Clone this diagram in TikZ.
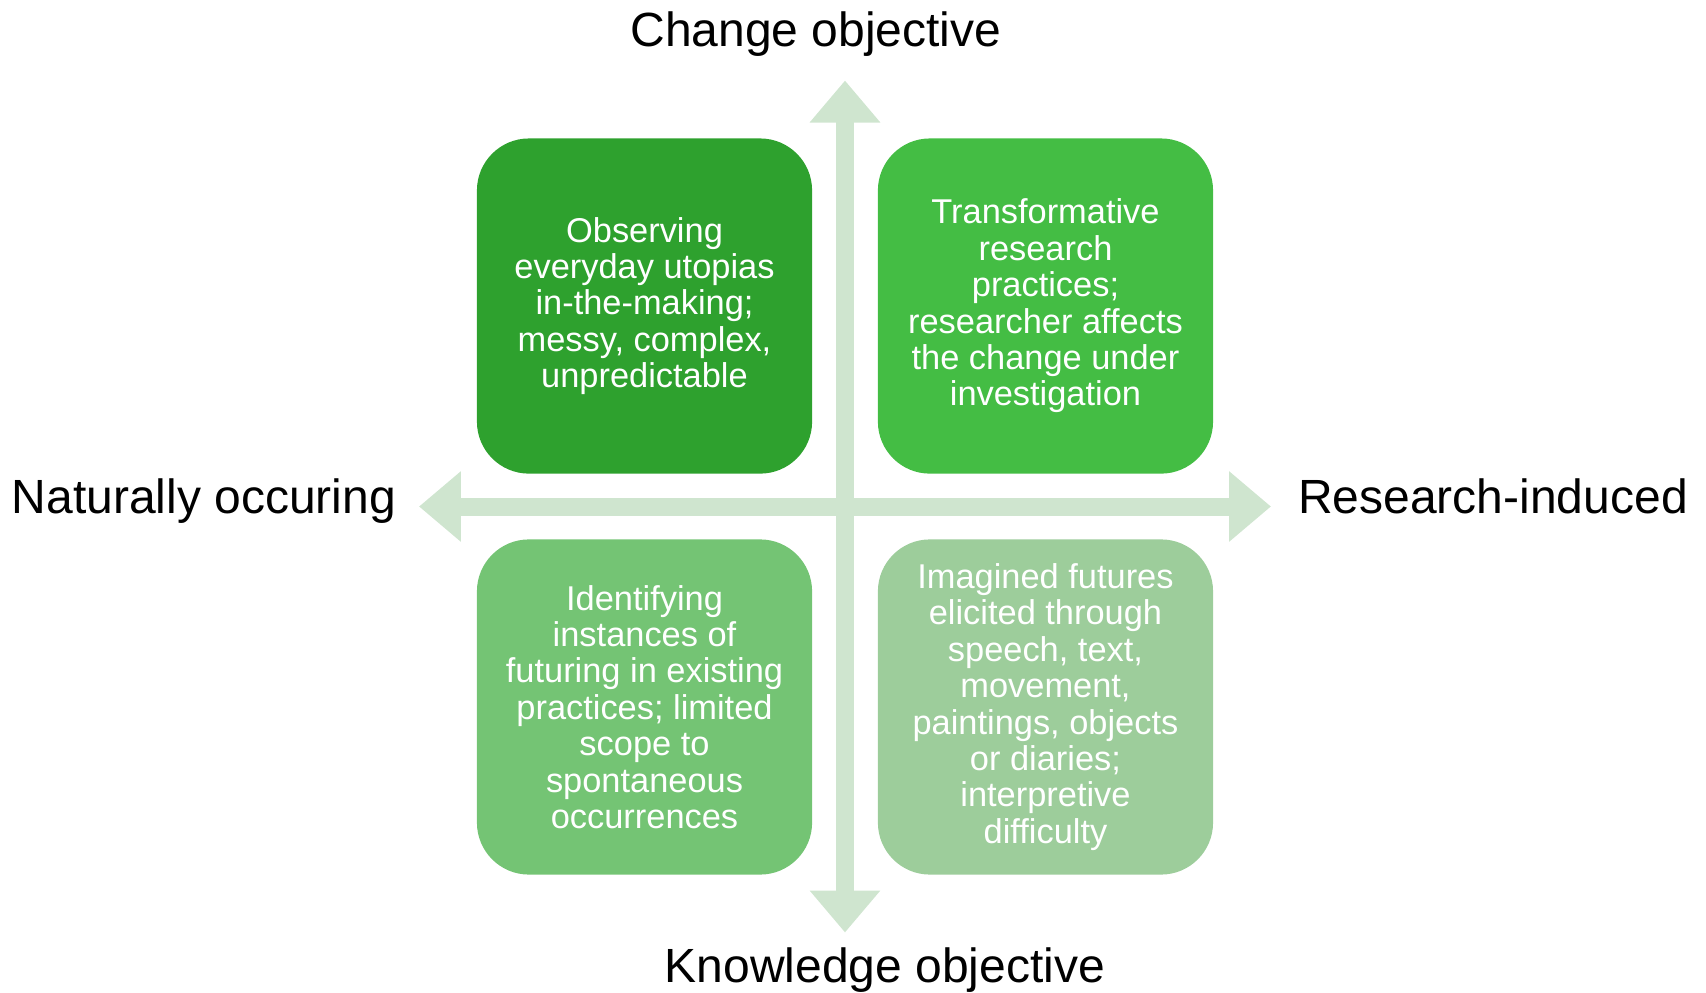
\documentclass[tikz,border=0pt]{standalone}
\usepackage{fontspec}
\setmainfont{Liberation Sans}
\usetikzlibrary{arrows.meta}

\definecolor{quadA}{RGB}{46,161,46}
\definecolor{quadB}{RGB}{68,189,68}
\definecolor{quadC}{RGB}{116,196,116}
\definecolor{quadD}{RGB}{157,205,155}
\definecolor{axisgreen}{RGB}{207,229,207}

\begin{document}
\begin{tikzpicture}[
    quad/.style={rounded corners=0.914cm, minimum width=5.89cm, minimum height=5.89cm,
                 inner sep=0pt, align=center, text=white,
                 font=\fontsize{17.2}{18.2}\selectfont},
    axis/.style={axisgreen, line width=9pt,
                 {Triangle[width=34pt,length=21pt]}-{Triangle[width=34pt,length=21pt]}},
    axislabel/.style={anchor=base, inner sep=0pt, font=\fontsize{24}{28}\selectfont}
  ]
  \useasboundingbox (-14.849,-8.532) rectangle (15.130,8.901);

  % axes ends
  \coordinate (west)  at (-7.486,0);
  \coordinate (east)  at (7.486,0);
  \coordinate (north) at (0,7.486);
  \coordinate (south) at (0,-7.486);
  \draw[axis] (west) -- (east);
  \draw[axis] (south) -- (north);

  % the four quadrants
  \node[quad, fill=quadA] (observe) at (-3.523,3.523)
    {Observing\\everyday utopias\\in-the-making;\\messy, complex,\\unpredictable};
  \node[quad, fill=quadB] (transform) at (3.523,3.523)
    {Transformative\\research\\practices;\\researcher affects\\the change under\\investigation};
  \node[quad, fill=quadC] (identify) at (-3.523,-3.523)
    {Identifying\\instances of\\futuring in existing\\practices; limited\\scope to\\spontaneous\\occurrences};
  \node[quad, fill=quadD] (imagine) at (3.523,-3.523)
    {Imagined futures\\elicited through\\speech, text,\\movement,\\paintings, objects\\or diaries;\\interpretive\\difficulty};

  % axis labels
  \node[axislabel] (change) at (-0.510,8.075) {Change objective};
  \node[axislabel] (knowledge) at (0.703,-8.36) {Knowledge objective};
  \node[axislabel] (natural) at (-11.264,-0.114) {Naturally occuring};
  \node[axislabel] (induced) at (11.387,-0.114) {Research-induced};
\end{tikzpicture}
\end{document}
